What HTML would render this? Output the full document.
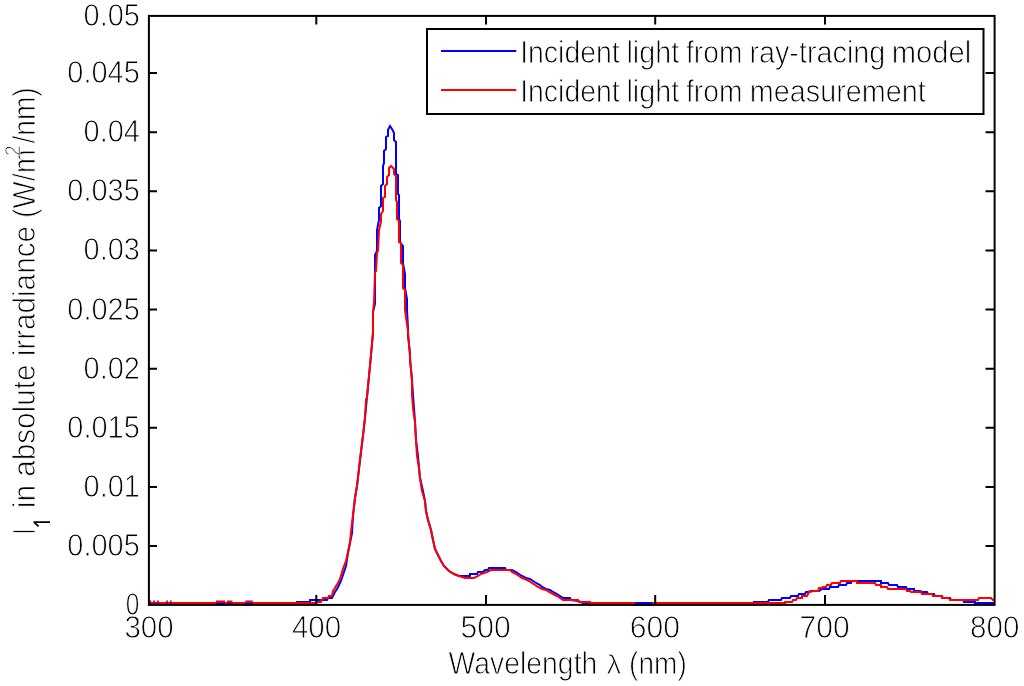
<!DOCTYPE html>
<html><head><meta charset="utf-8"><style>
html,body{margin:0;padding:0;background:#fff;width:1024px;height:686px;overflow:hidden}
svg{display:block}
text{font-family:"Liberation Sans",sans-serif;font-size:32px;fill:#000;stroke:#fff;stroke-width:0.9px}
</style></head><body>
<svg width="1024" height="686" viewBox="0 0 1024 686">
<rect width="1024" height="686" fill="#fff"/>
<path d="M148,603 L297,603 L297,602 L310,602 L310,600 L327,600 L328,598 L332,598 L333,596 L335,592 L337,589 L338,587 L340,583 L342,578 L344,572 L346,566 L348,553 L350,543 L352,533 L353,516 L355,498 L357,486 L359,469 L361,452 L363,436 L365,418 L367,397 L369,376 L371,355 L373,333 L373,312 L375,304 L375,272 L375,271 L375,255 L377,251 L377,230 L379,220 L379,208 L381,206 L381,186 L383,184 L383,166 L384,163 L384,151 L386,149 L386,137 L388,136 L388,130 L390,126 L392,129 L394,133 L394,140 L396,142 L396,174 L398,175 L398,194 L399,195 L399,219 L400,221 L400,242 L403,246 L403,263 L405,274 L405,288 L407,299 L407,310 L408,328 L408,336 L410,353 L410,360 L412,380 L413,395 L414,408 L415,422 L416,440 L418,456 L419,468 L420,478 L423,491 L425,501 L426,511 L428,520 L431,530 L433,540 L435,549 L438,555 L441,561 L444,566 L449,571 L454,574 L459,576 L470,576 L470,574 L477,574 L478,572 L483,572 L485,570 L488,570 L489,568 L505,568 L506,570 L512,570 L516,572 L519,574 L522,576 L526,578 L530,579 L533,581 L536,583 L540,585 L542,587 L546,589 L550,590 L553,592 L557,594 L560,596 L563,598 L570,598 L571,600 L578,601 L583,603 L754,603 L754,602 L768,602 L769,600 L781,600 L782,598 L790,598 L791,596 L798,596 L799,594 L805,594 L806,592 L808,592 L811,591 L819,591 L822,589 L829,589 L830,587 L838,587 L839,585 L846,585 L847,583 L851,583 L852,581 L881,581 L881,583 L888,583 L889,585 L897,585 L898,587 L906,587 L907,589 L914,589 L914,591 L920,591 L922,592 L927,592 L928,594 L934,594 L935,596 L942,596 L943,598 L950,598 L951,600 L963,600 L964,602 L975,602 L975,603 L994,603" fill="none" stroke="#0000ff" stroke-width="2"/>
<path d="M148,603 L316,603 L317,602 L321,602 L323,598 L328,598 L329,596 L332,596 L333,591 L335,588 L336,586 L338,583 L340,579 L342,572 L344,566 L346,561 L348,552 L350,542 L351,532 L353,515 L355,498 L357,486 L359,468 L361,451 L363,435 L365,417 L366,400 L367,397 L369,376 L371,355 L373,332 L373,312 L374,303 L375,272 L376,271 L377,253 L378,251 L379,230 L381,222 L381,214 L383,211 L383,198 L385,197 L385,186 L387,184 L387,177 L389,175 L389,168 L391,166 L394,169 L394,174 L396,176 L396,200 L397,202 L397,219 L399,221 L399,242 L401,243 L401,263 L403,265 L403,288 L405,290 L405,310 L408,331 L410,357 L412,381 L412,395 L413,408 L415,422 L416,440 L417,456 L419,468 L420,478 L422,491 L425,501 L426,511 L428,520 L431,530 L433,540 L435,549 L438,555 L441,561 L444,566 L449,571 L454,574 L459,576 L465,578 L474,578 L478,576 L481,574 L487,572 L491,570 L510,570 L512,572 L516,574 L519,576 L522,578 L525,579 L529,581 L532,583 L535,585 L538,587 L542,589 L546,590 L549,592 L553,594 L557,596 L560,598 L563,600 L578,600 L579,602 L590,602 L590,603 L634,603 L634,605 L652,605 L653,603 L785,603 L785,602 L792,602 L793,600 L796,600 L797,598 L802,598 L802,596 L807,596 L809,592 L814,591 L818,591 L819,588 L822,588 L823,587 L826,587 L827,585 L831,585 L832,583 L840,583 L841,581 L857,581 L857,583 L875,583 L876,585 L881,585 L881,587 L887,587 L888,589 L906,589 L907,591 L910,591 L911,592 L921,592 L922,594 L932,594 L933,596 L942,596 L942,598 L949,598 L950,600 L978,600 L979,598 L991,598 L993,600 L994,600" fill="none" stroke="#ff0000" stroke-width="2"/>
<rect x="149.35" y="602.5" width="1.90" height="2" fill="#00f"/><rect x="149.35" y="600.5" width="1.90" height="2" fill="#f00"/><rect x="153.15" y="602.5" width="1.90" height="2" fill="#00f"/><rect x="153.15" y="600.5" width="1.90" height="2" fill="#f00"/><rect x="156.95" y="602.5" width="1.90" height="2" fill="#00f"/><rect x="156.95" y="600.5" width="1.90" height="2" fill="#f00"/><rect x="166.05" y="602.5" width="1.90" height="2" fill="#00f"/><rect x="166.05" y="600.5" width="1.90" height="2" fill="#f00"/><rect x="169.85" y="602.5" width="1.90" height="2" fill="#00f"/><rect x="169.85" y="600.5" width="1.90" height="2" fill="#f00"/><rect x="216.00" y="602.5" width="9.00" height="2" fill="#00f"/><rect x="216.00" y="600.5" width="9.00" height="2" fill="#f00"/><rect x="227.00" y="602.5" width="5.40" height="2" fill="#00f"/><rect x="227.00" y="600.5" width="5.40" height="2" fill="#f00"/><rect x="245.30" y="602.5" width="7.50" height="2" fill="#00f"/><rect x="245.30" y="600.5" width="7.50" height="2" fill="#f00"/>
<rect x="148.9" y="15.9" width="845.7" height="589" fill="none" stroke="#000" stroke-width="2"/>
<path d="M316.3,604 V595 M316.3,16 V24.5 M486.0,604 V595 M486.0,16 V24.5 M655.2,604 V595 M655.2,16 V24.5 M825.0,604 V595 M825.0,16 V24.5 M149,546.0 H157 M994,546.0 H985.5 M149,486.9 H157 M994,486.9 H985.5 M149,427.8 H157 M994,427.8 H985.5 M149,368.7 H157 M994,368.7 H985.5 M149,309.6 H157 M994,309.6 H985.5 M149,250.4 H157 M994,250.4 H985.5 M149,191.3 H157 M994,191.3 H985.5 M149,132.2 H157 M994,132.2 H985.5 M149,73.1 H157 M994,73.1 H985.5" stroke="#000" stroke-width="2" fill="none"/>
<rect x="427" y="29" width="556.5" height="85" fill="#fff" stroke="#000" stroke-width="2"/>
<path d="M441,51 H516.3" stroke="#0000ff" stroke-width="2"/>
<path d="M441,90 H516.3" stroke="#ff0000" stroke-width="2"/>
<defs><filter id="gs" x="0" y="0" width="1" height="1" ><feColorMatrix type="saturate" values="0"/></filter></defs>
<g filter="url(#gs)">
<path d="M33.5,522.1 H50 M34.2,522.3 L38.6,526.4" stroke="#000" stroke-width="1.8" fill="none"/>
<text x="125.84" y="615.10" textLength="13.57" lengthAdjust="spacingAndGlyphs">0</text>
<text x="67.31" y="555.99" textLength="72.47" lengthAdjust="spacingAndGlyphs">0.005</text>
<text x="83.59" y="496.88" textLength="56.36" lengthAdjust="spacingAndGlyphs">0.01</text>
<text x="67.31" y="437.77" textLength="72.47" lengthAdjust="spacingAndGlyphs">0.015</text>
<text x="83.59" y="378.66" textLength="56.36" lengthAdjust="spacingAndGlyphs">0.02</text>
<text x="67.31" y="319.55" textLength="72.47" lengthAdjust="spacingAndGlyphs">0.025</text>
<text x="83.59" y="260.44" textLength="56.36" lengthAdjust="spacingAndGlyphs">0.03</text>
<text x="67.31" y="201.33" textLength="72.47" lengthAdjust="spacingAndGlyphs">0.035</text>
<text x="83.59" y="142.22" textLength="56.36" lengthAdjust="spacingAndGlyphs">0.04</text>
<text x="67.31" y="83.11" textLength="72.47" lengthAdjust="spacingAndGlyphs">0.045</text>
<text x="83.59" y="25.50" textLength="56.36" lengthAdjust="spacingAndGlyphs">0.05</text>
<text x="124.48" y="637.60" textLength="49.20" lengthAdjust="spacingAndGlyphs">300</text>
<text x="291.88" y="637.60" textLength="49.20" lengthAdjust="spacingAndGlyphs">400</text>
<text x="460.62" y="637.60" textLength="50.19" lengthAdjust="spacingAndGlyphs">500</text>
<text x="629.82" y="637.60" textLength="50.19" lengthAdjust="spacingAndGlyphs">600</text>
<text x="799.62" y="637.60" textLength="50.19" lengthAdjust="spacingAndGlyphs">700</text>
<text x="970.08" y="637.60" textLength="49.20" lengthAdjust="spacingAndGlyphs">800</text>
<text x="520.13" y="63.00" textLength="99.64" lengthAdjust="spacingAndGlyphs">Incident</text>
<text x="626.40" y="63.00" textLength="52.73" lengthAdjust="spacingAndGlyphs">light</text>
<text x="686.00" y="63.00" textLength="56.46" lengthAdjust="spacingAndGlyphs">from</text>
<text x="749.40" y="63.00" textLength="135.94" lengthAdjust="spacingAndGlyphs">ray-tracing</text>
<text x="891.68" y="63.00" textLength="79.49" lengthAdjust="spacingAndGlyphs">model</text>
<text x="520.13" y="101.70" textLength="99.64" lengthAdjust="spacingAndGlyphs">Incident</text>
<text x="626.40" y="101.70" textLength="52.73" lengthAdjust="spacingAndGlyphs">light</text>
<text x="686.00" y="101.70" textLength="56.46" lengthAdjust="spacingAndGlyphs">from</text>
<text x="749.80" y="101.70" textLength="175.98" lengthAdjust="spacingAndGlyphs">measurement</text>
<text x="448.50" y="673.50" textLength="148.79" lengthAdjust="spacingAndGlyphs">Wavelength</text>
<text x="629.05" y="673.50" textLength="57.70" lengthAdjust="spacingAndGlyphs">(nm)</text>
<text x="606.40" y="674.30" textLength="14.70" lengthAdjust="spacingAndGlyphs" style="font-size:28px">λ</text>
<g transform="translate(35,532.5) rotate(-90)">
<text x="-2.20" y="0.00" textLength="6.52" lengthAdjust="spacingAndGlyphs">I</text>
<text x="24.34" y="0.00" textLength="282.16" lengthAdjust="spacingAndGlyphs">in absolute irradiance</text>
<text x="314.50" y="0.00" textLength="68.66" lengthAdjust="spacingAndGlyphs">(W/m</text>
<text x="376.62" y="-15.50" textLength="10.78" lengthAdjust="spacingAndGlyphs" style="font-size:22px">2</text>
<text x="388.90" y="0.00" textLength="56.36" lengthAdjust="spacingAndGlyphs">/nm)</text>
</g>
</g>
</svg>
</body></html>
